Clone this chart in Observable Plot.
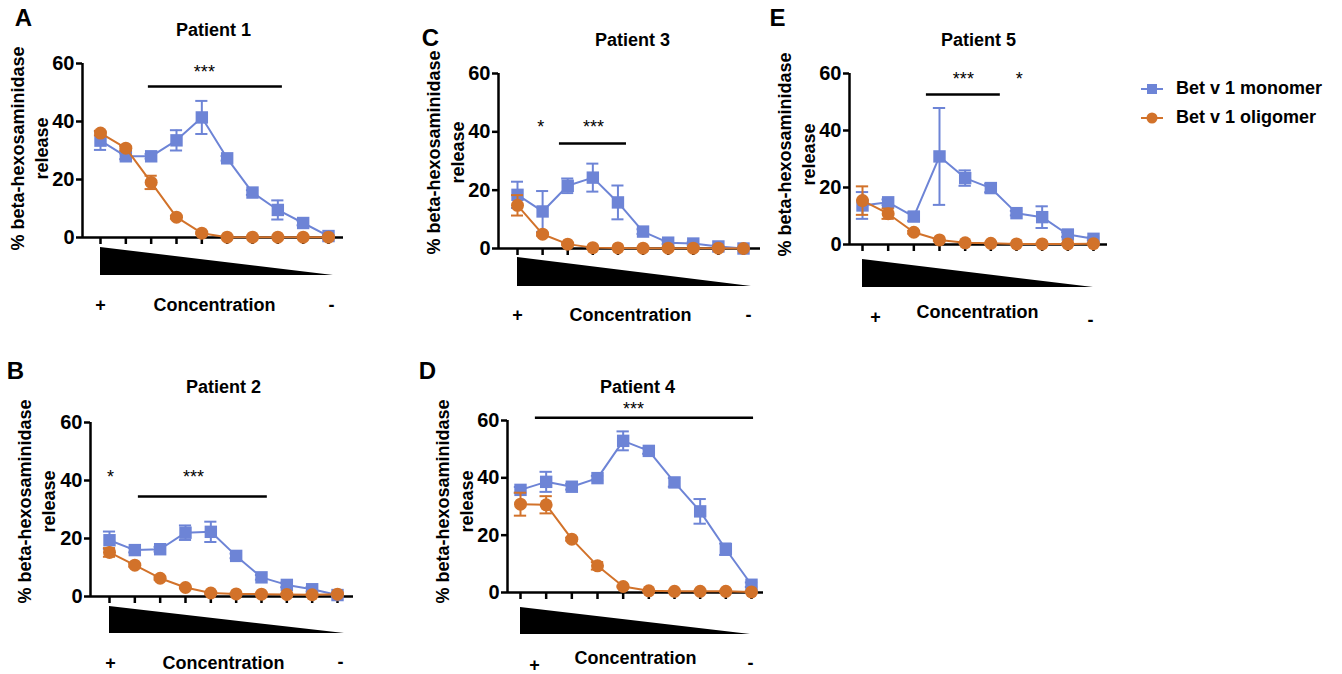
<!DOCTYPE html>
<html>
<head>
<meta charset="utf-8">
<script src="https://cdn.jsdelivr.net/npm/d3@7"></script>
<script src="https://cdn.jsdelivr.net/npm/@observablehq/plot@0.6"></script>
<style>
  html, body { margin: 0; padding: 0; background: #fff; }
  #page { position: relative; width: 1342px; height: 674px; overflow: hidden; font-family: "Liberation Sans", Arial, sans-serif; }
  .panel { position: absolute; }
  .panel svg { overflow: visible; }
  #legend { position: absolute; left: 1140px; top: 74px; font: bold 18px "Liberation Sans", Arial, sans-serif; color: #000; }
  #legend .row { display: flex; align-items: center; height: 29px; }
  #legend svg { margin-right: 12px; }
</style>
</head>
<body>
<div id="page"></div>
<script>
// ---------------- DATA ----------------
const conc = [1, 2, 3, 4, 5, 6, 7, 8, 9, 10];
const concLabels = ["+", "Concentration", "-"];
const seriesNames = ["Bet v 1 monomer", "Bet v 1 oligomer"];
const yTicks = [0, 20, 40, 60];
const yLabel = "% beta-hexosaminidase\nrelease";
const patientNames = ["Patient 1", "Patient 2", "Patient 3", "Patient 4", "Patient 5"];
const panelLetters = ["A", "B", "C", "D", "E"];

const p1Monomer    = [33.4, 28.0, 28.0, 33.5, 41.4, 27.3, 15.5, 9.5, 5.0, 0.5];
const p1MonomerErr = [3.2, 1.0, 0.8, 3.5, 5.7, 0.8, 0.8, 3.3, 0.8, 0.4];
const p1Oligomer   = [36.0, 30.8, 19.0, 7.0, 1.5, 0.1, 0.1, 0.1, 0.1, 0.1];
const p1OligomerErr= [0.8, 0.8, 2.3, 0.5, 0.3, 0, 0, 0, 0, 0];

const p2Monomer    = [19.4, 16.0, 16.3, 22.0, 22.3, 14.0, 6.6, 4.0, 2.5, 0.5];
const p2MonomerErr = [3.0, 0.8, 0.8, 2.5, 3.5, 0.8, 0.8, 0.8, 0.8, 0.5];
const p2Oligomer   = [15.2, 10.8, 6.3, 3.1, 1.2, 0.9, 0.8, 0.7, 0.6, 0.8];
const p2OligomerErr= [1.5, 0.5, 0.5, 0.3, 0.3, 0.2, 0.2, 0.2, 0.2, 0.2];

const p3Monomer    = [18.4, 12.7, 21.5, 24.3, 15.8, 5.8, 2.0, 1.7, 0.7, 0.0];
const p3MonomerErr = [4.5, 7.0, 2.5, 4.8, 5.8, 0.8, 0.5, 0.5, 0.5, 0.3];
const p3Oligomer   = [14.8, 4.9, 1.5, 0.3, 0.2, 0.1, 0.1, 0.1, 0.1, 0.0];
const p3OligomerErr= [3.5, 0.5, 0.3, 0.1, 0, 0, 0, 0, 0, 0];

const p4Monomer    = [35.8, 38.6, 36.9, 39.9, 52.9, 49.4, 38.4, 28.3, 15.1, 2.7];
const p4MonomerErr = [1.0, 3.5, 1.0, 0.8, 3.3, 1.0, 1.5, 4.3, 2.0, 0.8];
const p4Oligomer   = [30.8, 30.6, 18.6, 9.3, 2.1, 0.6, 0.4, 0.4, 0.4, 0.2];
const p4OligomerErr= [4.0, 3.0, 0.5, 1.3, 0.3, 0.2, 0.2, 0.2, 0.2, 0.2];

const p5Monomer    = [13.7, 14.8, 9.8, 30.9, 23.3, 19.8, 11.0, 9.6, 3.5, 2.0];
const p5MonomerErr = [4.7, 1.0, 1.5, 17.0, 2.7, 1.5, 0.8, 3.8, 0.8, 0.5];
const p5Oligomer   = [15.4, 10.8, 4.3, 1.6, 0.6, 0.4, 0.2, 0.2, 0.2, 0.3];
const p5OligomerErr= [5.0, 1.8, 0.5, 0.3, 0.2, 0.2, 0.2, 0.2, 0.2, 0.2];

// significance annotations (x in concentration index, y in % release)
const sigBars = [
  [{from: 2.89, to: 8.18, y: 52.1}],
  [{from: 2.14, to: 7.23, y: 34.5}],
  [{from: 2.67, to: 5.34, y: 36.0}],
  [{from: 1.58, to: 10.08, y: 61.0}],
  [{from: 3.49, to: 6.37, y: 52.6}]
];
const sigStars = [
  [{x: 5.10, y: 58.3, text: "***"}],
  [{x: 1.04, y: 42.4, text: "*"}, {x: 4.32, y: 42.4, text: "***"}],
  [{x: 1.93, y: 42.9, text: "*"}, {x: 4.03, y: 42.9, text: "***"}],
  [{x: 5.40, y: 65.2, text: "***"}],
  [{x: 4.93, y: 59.3, text: "***"}, {x: 7.11, y: 59.3, text: "*"}]
];

const monomers = [p1Monomer, p2Monomer, p3Monomer, p4Monomer, p5Monomer];
const monomerErrs = [p1MonomerErr, p2MonomerErr, p3MonomerErr, p4MonomerErr, p5MonomerErr];
const oligomers = [p1Oligomer, p2Oligomer, p3Oligomer, p4Oligomer, p5Oligomer];
const oligomerErrs = [p1OligomerErr, p2OligomerErr, p3OligomerErr, p4OligomerErr, p5OligomerErr];

// ---------------- STYLE / LAYOUT ----------------
const BLUE = "#6d84d6";
const ORANGE = "#d2722a";
const FONT = "'Liberation Sans', Arial, Helvetica, sans-serif";

// page-pixel layout of each panel (order A,B,C,D,E)
const layouts = [
  {box:{left:0,top:0,w:405,h:335}, x0:82, xFirst:100, xLast:328, xEnd:343, y0:237, y60:63,
   title:[213,30], letter:[23,18], ylab:[28,148], tri:[100,333,247,275], plus:[100,305], conc:[214,305], minus:[331,305]},
  {box:{left:0,top:340,w:405,h:334}, x0:90, xFirst:109, xLast:337, xEnd:353, y0:596, y60:422,
   title:[223,387], letter:[15,371], ylab:[35,501], tri:[109,344,606,633], plus:[110,663], conc:[223,663], minus:[340,662]},
  {box:{left:410,top:0,w:355,h:335}, x0:498, xFirst:517, xLast:743, xEnd:760, y0:248, y60:73,
   title:[632,40], letter:[430,38], ylab:[444,152], tri:[517,751,257,286], plus:[517,315], conc:[630,315], minus:[748,315]},
  {box:{left:410,top:340,w:355,h:334}, x0:507, xFirst:520, xLast:751, xEnd:763, y0:592, y60:420,
   title:[637,387], letter:[427,371], ylab:[453,501], tri:[520,750,607,634], plus:[534,665], conc:[635,658], minus:[750,663]},
  {box:{left:770,top:0,w:350,h:335}, x0:849, xFirst:862, xLast:1093, xEnd:1107, y0:244, y60:73,
   title:[978,40], letter:[777,18], ylab:[795,154], tri:[862,1093,259,287], plus:[875,317], conc:[977,312], minus:[1090,320]}
];

function seriesMarks(values, errs, color, symbol, r) {
  const data = conc.map((c, i) => ({c, v: values[i], e: errs[i]}));
  const withErr = data.filter(d => d.e > 0);
  return [
    Plot.line(data, {x: "c", y: "v", stroke: color, strokeWidth: 2}),
    Plot.ruleX(withErr, {x: "c", y1: d => d.v - d.e, y2: d => d.v + d.e, stroke: color, strokeWidth: 2}),
    Plot.ruleY(withErr, {y: d => d.v + d.e, x1: d => d.c - 0.24, x2: d => d.c + 0.24, stroke: color, strokeWidth: 2}),
    Plot.ruleY(withErr, {y: d => d.v - d.e, x1: d => d.c - 0.24, x2: d => d.c + 0.24, stroke: color, strokeWidth: 2}),
    Plot.dot(data, {x: "c", y: "v", symbol, r, fill: color, stroke: "none"})
  ];
}

function makePanel(k) {
  const L = layouts[k];
  const step = (L.xLast - L.xFirst) / (conc.length - 1);
  const X = px => conc[0] + (px - L.xFirst) / step;
  const Y = py => (L.y0 - py) * 60 / (L.y0 - L.y60);
  const xlo = X(L.x0), xhi = X(L.xEnd);

  const tri = [
    {x: X(L.tri[0]), y1: Y(L.tri[3]), y2: Y(L.tri[2])},
    {x: X(L.tri[1]), y1: Y(L.tri[3]), y2: Y(L.tri[3])}
  ];

  const chart = Plot.plot({
    width: L.box.w,
    height: L.box.h,
    marginLeft: L.x0 - L.box.left,
    marginRight: L.box.left + L.box.w - L.xEnd,
    marginTop: L.y60 - L.box.top,
    marginBottom: L.box.top + L.box.h - L.y0,
    x: {domain: [xlo, xhi]},
    y: {domain: [0, 60]},
    style: {fontFamily: FONT, color: "#000", background: "transparent", overflow: "visible"},
    marks: [
      Plot.axisY({ticks: yTicks, tickSize: 6, tickPadding: 2, fontSize: 20, fontWeight: "bold", strokeWidth: 2.5, label: null}),
      Plot.axisX({ticks: conc, tickSize: 7, tickFormat: () => "", strokeWidth: 2.5, label: null}),
      Plot.ruleX([xlo], {y1: 0, y2: 60, stroke: "#000", strokeWidth: 2.5}),
      Plot.ruleY([0], {x1: xlo, x2: xhi, stroke: "#000", strokeWidth: 2.5}),
      Plot.areaY(tri, {x: "x", y1: "y1", y2: "y2", fill: "#000", curve: "linear"}),
      Plot.text([concLabels[0]], {x: X(L.plus[0]), y: Y(L.plus[1]), fontSize: 18, fontWeight: "bold"}),
      Plot.text([concLabels[1]], {x: X(L.conc[0]), y: Y(L.conc[1]), fontSize: 18, fontWeight: "bold"}),
      Plot.text([concLabels[2]], {x: X(L.minus[0]), y: Y(L.minus[1]), fontSize: 18, fontWeight: "bold"}),
      Plot.text([patientNames[k]], {x: X(L.title[0]), y: Y(L.title[1]), fontSize: 18, fontWeight: "bold"}),
      Plot.text([panelLetters[k]], {x: X(L.letter[0]), y: Y(L.letter[1]), fontSize: 24, fontWeight: "bold"}),
      Plot.text([yLabel], {x: X(L.ylab[0]), y: Y(L.ylab[1]), rotate: -90, fontSize: 18, fontWeight: "bold", lineHeight: 1.35}),
      Plot.ruleY(sigBars[k], {y: "y", x1: "from", x2: "to", stroke: "#000", strokeWidth: 2.5}),
      Plot.text(sigStars[k], {x: "x", y: "y", text: "text", fontSize: 18, dy: 4}),
      ...seriesMarks(monomers[k], monomerErrs[k], BLUE, "square", 7),
      ...seriesMarks(oligomers[k], oligomerErrs[k], ORANGE, "circle", 6.5)
    ]
  });
  const div = document.createElement("div");
  div.className = "panel";
  div.style.left = L.box.left + "px";
  div.style.top = L.box.top + "px";
  div.appendChild(chart);
  return div;
}

const page = document.getElementById("page");
for (let k = 0; k < 5; k++) page.appendChild(makePanel(k));

// legend
const legend = document.createElement("div");
legend.id = "legend";
const legendSymbols = [
  `<svg width="24" height="14"><line x1="1" y1="7" x2="23" y2="7" stroke="${BLUE}" stroke-width="2"/><rect x="7" y="2" width="10" height="10" fill="${BLUE}"/></svg>`,
  `<svg width="24" height="14"><line x1="1" y1="7" x2="23" y2="7" stroke="${ORANGE}" stroke-width="2"/><circle cx="12" cy="7" r="5.5" fill="${ORANGE}"/></svg>`
];
seriesNames.forEach((name, i) => {
  const row = document.createElement("div");
  row.className = "row";
  row.innerHTML = legendSymbols[i] + `<span>${name}</span>`;
  legend.appendChild(row);
});
page.appendChild(legend);
</script>
</body>
</html>
